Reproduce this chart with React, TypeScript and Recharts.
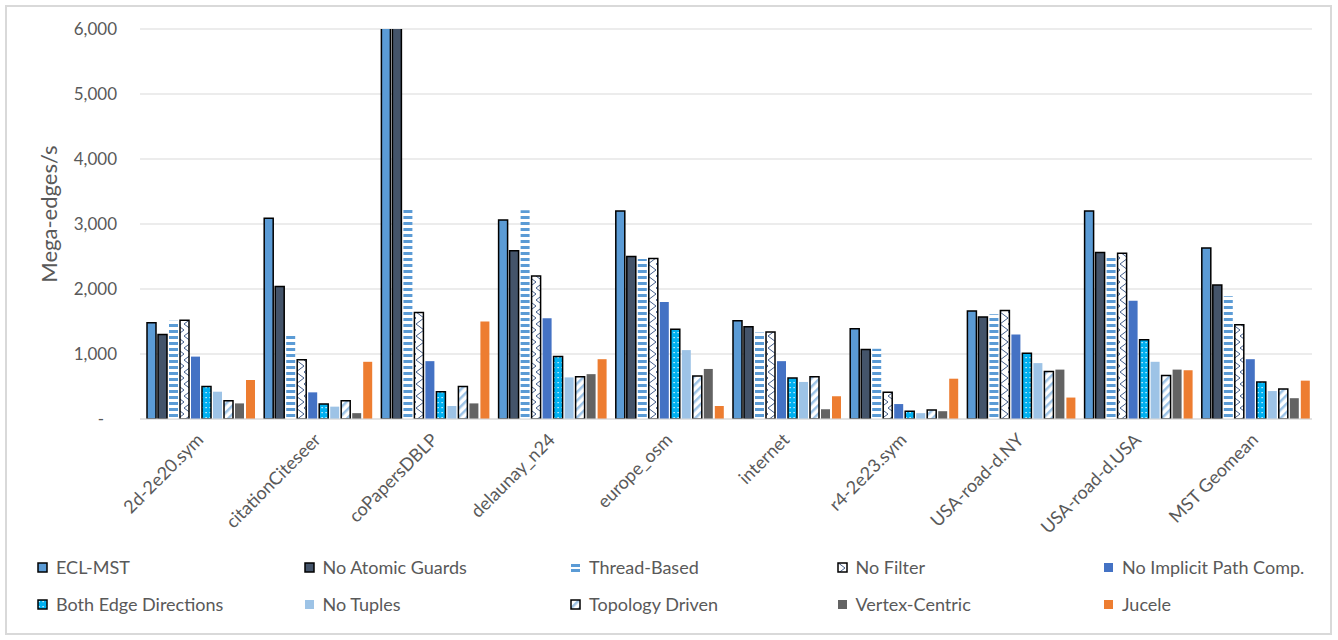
import { Bar, BarChart, CartesianGrid, Legend, XAxis, YAxis } from 'recharts'

const categories = [
  '2d-2e20.sym', 'citationCiteseer', 'coPapersDBLP', 'delaunay_n24', 'europe_osm',
  'internet', 'r4-2e23.sym', 'USA-road-d.NY', 'USA-road-d.USA', 'MST Geomean',
]

// coPapersDBLP runs past the top of the axis for the first two variants
const eclMst = [1480, 3090, 7400, 3060, 3200, 1510, 1390, 1660, 3200, 2630]
const noAtomicGuards = [1300, 2040, 6900, 2590, 2500, 1420, 1070, 1570, 2560, 2060]
const threadBased = [1510, 1290, 3230, 3210, 2460, 1330, 1080, 1610, 2480, 1890]
const noFilter = [1520, 910, 1640, 2200, 2470, 1340, 410, 1670, 2550, 1450]
const noImplicitPath = [960, 410, 890, 1550, 1800, 890, 230, 1300, 1820, 920]
const bothEdgeDirections = [500, 230, 420, 960, 1380, 630, 120, 1010, 1220, 570]
const noTuples = [420, 190, 200, 640, 1060, 570, 90, 860, 880, 430]
const topologyDriven = [280, 280, 500, 650, 660, 650, 140, 730, 670, 460]
const vertexCentric = [240, 90, 240, 690, 770, 150, 120, 760, 760, 320]
const jucele = [600, 880, 1500, 920, 200, 350, 620, 330, 750, 590]

const yTicks = [0, 1000, 2000, 3000, 4000, 5000, 6000]

const series = [
  { key: 'eclMst', name: 'ECL-MST', values: eclMst, fill: '#5B9BD5', stroke: '#000' },
  { key: 'noAtomicGuards', name: 'No Atomic Guards', values: noAtomicGuards, fill: '#44546A', stroke: '#000' },
  { key: 'threadBased', name: 'Thread-Based', values: threadBased, fill: 'url(#pat-thread)' },
  { key: 'noFilter', name: 'No Filter', values: noFilter, fill: 'url(#pat-nofilter)', stroke: '#000' },
  { key: 'noImplicitPath', name: 'No Implicit Path Comp.', values: noImplicitPath, fill: '#4472C4' },
  { key: 'bothEdgeDirections', name: 'Both Edge Directions', values: bothEdgeDirections, fill: 'url(#pat-both)', stroke: '#000' },
  { key: 'noTuples', name: 'No Tuples', values: noTuples, fill: '#9DC3E6' },
  { key: 'topologyDriven', name: 'Topology Driven', values: topologyDriven, fill: 'url(#pat-topo)', stroke: '#000' },
  { key: 'vertexCentric', name: 'Vertex-Centric', values: vertexCentric, fill: '#636363' },
  { key: 'jucele', name: 'Jucele', values: jucele, fill: '#ED7D31' },
]

const data = categories.map((category, i) => {
  const row: Record<string, string | number> = { category }
  series.forEach(s => { row[s.key] = s.values[i] })
  return row
})

const TEXT = '#595959'
const GRID = '#d9d9d9'

const fmtTick = (v: number) => (v === 0 ? '-\u00A0\u00A0\u00A0' : v.toLocaleString('en-US'))

function Patterns() {
  return (
    <svg width={0} height={0} style={{ position: 'absolute' }}>
      <defs>
        <pattern id="pat-thread" patternUnits="userSpaceOnUse" width={8} height={6}>
          <rect width={8} height={6} fill="#fff" />
          <rect width={8} height={3} fill="#5B9BD5" />
        </pattern>
        <pattern id="pat-nofilter" patternUnits="userSpaceOnUse" width={8} height={12}>
          <rect width={8} height={12} fill="#fff" />
          <path d="M0,0 L8,6 L0,12" stroke="#2F4C7E" strokeWidth={0.9} fill="none" />
        </pattern>
        <pattern id="pat-both" patternUnits="userSpaceOnUse" width={4} height={5}>
          <rect width={4} height={5} fill="#00B0F0" />
          <rect x={1.5} y={2} width={1.2} height={1.2} fill="#fff" />
        </pattern>
        <pattern id="pat-topo" patternUnits="userSpaceOnUse" width={6} height={6} patternTransform="rotate(45)">
          <rect width={6} height={6} fill="#fff" />
          <rect width={2.5} height={6} fill="#9DC3E6" />
        </pattern>
      </defs>
    </svg>
  )
}

function CategoryTick({ x, y, payload }: any) {
  const ax = x + 6
  const ay = y + 14
  return (
    <text x={ax} y={ay} transform={`rotate(-45 ${ax} ${ay})`} textAnchor="end" fill={TEXT} fontSize={18}>
      {payload.value}
    </text>
  )
}

function LegendMarker({ s }: { s: typeof series[number] }) {
  if (s.key === 'threadBased') {
    return (
      <svg width={11} height={11}>
        <rect x={1} y={2} width={9} height={3} fill="#5B9BD5" />
        <rect x={1} y={7} width={9} height={3} fill="#5B9BD5" />
      </svg>
    )
  }
  return (
    <svg width={11} height={11}>
      <rect x={1} y={1} width={9} height={9} fill={s.fill} stroke={s.stroke ?? 'none'} strokeWidth={1.5} />
    </svg>
  )
}

function SeriesLegend() {
  return (
    <div
      style={{
        height: 92,
        boxSizing: 'border-box',
        paddingTop: 8,
        paddingLeft: 37,
        display: 'grid',
        gridTemplateColumns: 'repeat(5, 266.5px)',
        rowGap: 15,
        gridAutoRows: 22,
      }}
    >
      {series.map(s => (
        <div key={s.key} style={{ display: 'flex', alignItems: 'center', gap: 8, color: TEXT, fontSize: 18 }}>
          <LegendMarker s={s} />
          <span>{s.name}</span>
        </div>
      ))}
    </div>
  )
}

export default function App() {
  return (
    <div style={{ position: 'relative', width: 1338, height: 640, fontFamily: 'Lato, sans-serif', background: '#fff' }}>
      <style>{'body { margin: 0; }'}</style>
      <Patterns />
      <BarChart
        width={1338}
        height={640}
        data={data}
        margin={{ top: 29, right: 26, bottom: 0, left: 0 }}
        barCategoryGap={7}
        barGap={2}
      >
        <CartesianGrid vertical={false} stroke={GRID} />
        <XAxis
          dataKey="category"
          height={129}
          interval={0}
          tickLine={false}
          axisLine={{ stroke: GRID }}
          tick={<CategoryTick />}
        />
        <YAxis
          width={140}
          domain={[0, 6000]}
          ticks={yTicks}
          allowDataOverflow
          axisLine={false}
          tickLine={false}
          tickMargin={17}
          tickFormatter={fmtTick}
          tick={{ fill: TEXT, fontSize: 17 }}
          label={{
            content: () => (
              <text x={48} y={214} transform="rotate(-90 48 214)" textAnchor="middle" dominantBaseline="central" fill={TEXT} fontSize={22}>
                Mega-edges/s
              </text>
            ),
          }}
        />
        <Legend verticalAlign="bottom" align="left" content={() => <SeriesLegend />} />
        {series.map(s => (
          <Bar
            key={s.key}
            dataKey={s.key}
            name={s.name}
            fill={s.fill}
            stroke={s.stroke}
            strokeWidth={s.stroke ? 1.5 : 0}
            isAnimationActive={false}
          />
        ))}
      </BarChart>
      <div
        style={{
          position: 'absolute', left: 5, top: 5, width: 1327, height: 630,
          boxSizing: 'border-box', border: `2px solid ${GRID}`, pointerEvents: 'none',
        }}
      />
    </div>
  )
}
